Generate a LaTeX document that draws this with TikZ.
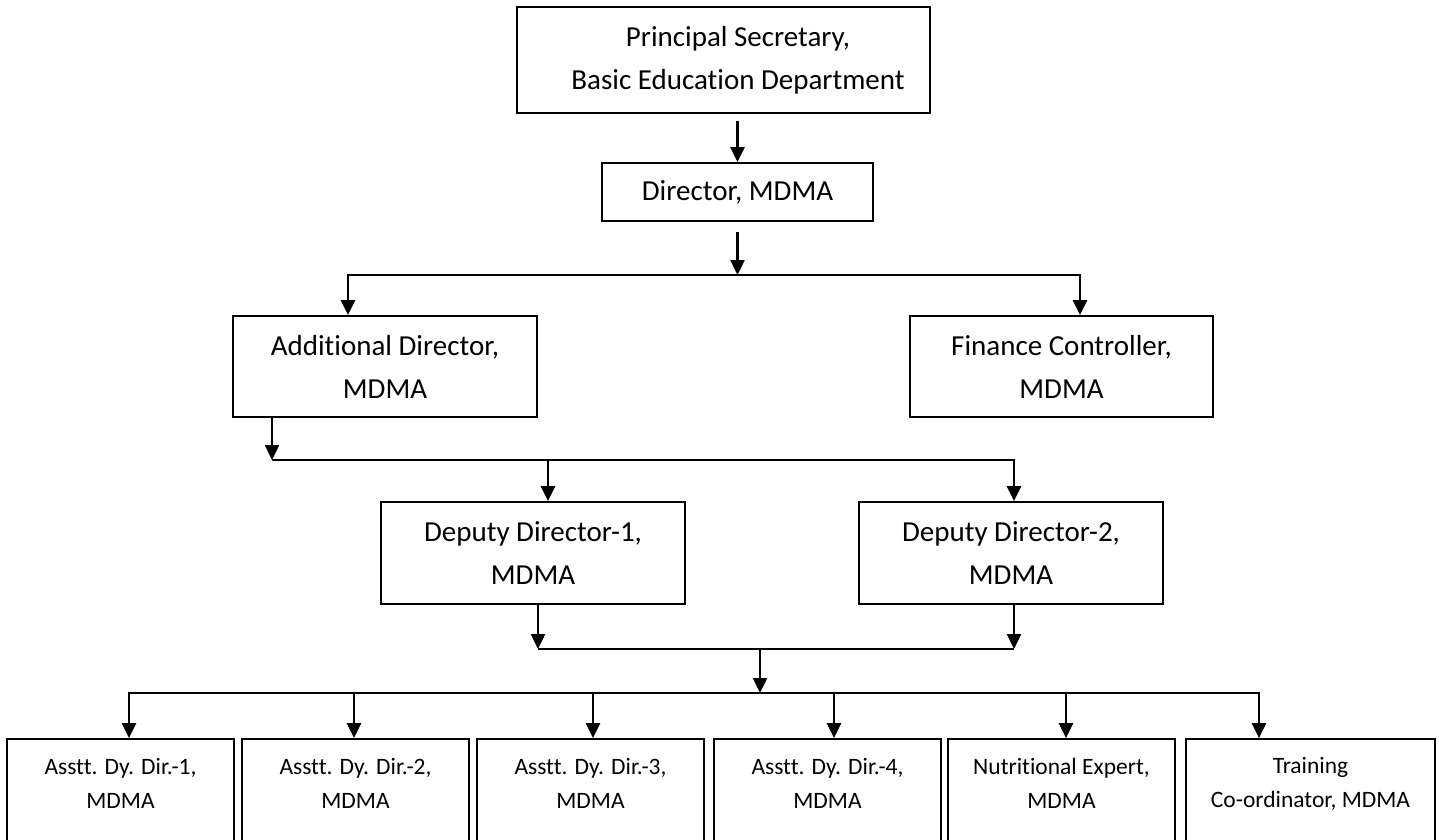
\documentclass[tikz,border=0pt]{standalone}
\usepackage{fontspec}
\setmainfont{Carlito}[Ligatures=NoCommon]
\usetikzlibrary{arrows.meta}
\begin{document}
\begin{tikzpicture}[x=1pt,y=-1pt,
  box/.style={draw, line width=1.8pt, rectangle, inner sep=0pt},
  big/.style={font=\fontsize{29}{43}\selectfont, align=center},
  small/.style={font=\fontsize{23.5}{34}\selectfont, align=center, inner sep=0pt},
  conn/.style={line width=2.4pt},
  arr/.style={conn, -{Triangle[length=15pt,width=14pt]}}]
\useasboundingbox (0,0) rectangle (1439,839);
\clip (0,0) rectangle (1439,839);

% boxes
\node[box,big,minimum width=413pt,minimum height=106pt] (ps) at (723.5,60)
  {\hspace*{29pt}Principal Secretary,\\\hspace*{29pt}Basic Education Department};
\node[box,big,minimum width=271pt,minimum height=58pt] (dir) at (737.5,192) {Director, MDMA};
\node[box,big,minimum width=304pt,minimum height=101pt] (ad) at (385,366.5) {Additional Director,\\MDMA};
\node[box,big,minimum width=303pt,minimum height=101pt] (fc) at (1061.5,366.5) {Finance Controller,\\MDMA};
\node[box,big,minimum width=304pt,minimum height=102pt] (d1) at (533,553) {Deputy Director-1,\\MDMA};
\node[box,big,minimum width=304pt,minimum height=102pt] (d2) at (1011,553) {Deputy Director-2,\\MDMA};

\node[box,minimum width=227pt,minimum height=111pt] (b1) at (120.5,794.5) {};
\node[box,minimum width=227pt,minimum height=111pt] (b2) at (355.5,794.5) {};
\node[box,minimum width=227pt,minimum height=111pt] (b3) at (590.5,794.5) {};
\node[box,minimum width=227pt,minimum height=111pt] (b4) at (827.5,794.5) {};
\node[box,minimum width=227pt,minimum height=111pt] (b5) at (1061.5,794.5) {};
\node[box,minimum width=249pt,minimum height=111pt] (b6) at (1310.5,794.5) {};

\node[small] (t1) at (120.5,783.5) {Asstt. Dy. Dir.-1,\\MDMA};
\node[small] (t2) at (355.5,783.5) {Asstt. Dy. Dir.-2,\\MDMA};
\node[small] (t3) at (590.5,783.5) {Asstt. Dy. Dir.-3,\\MDMA};
\node[small] (t4) at (827.5,783.5) {Asstt. Dy. Dir.-4,\\MDMA};
\node[small] (t5) at (1061.5,783.5) {Nutritional Expert,\\MDMA};
\node[small] (t6) at (1310.5,783.5) {Training\\Co-ordinator, MDMA};

% junction coordinates
\coordinate (h1m) at (737.5,275);
\coordinate (h1l) at (348,275);
\coordinate (h1r) at (1080,275);
\coordinate (h2l) at (272,460);
\coordinate (h2a) at (548,460);
\coordinate (h2b) at (1014,460);
\coordinate (h3a) at (538,649);
\coordinate (h3b) at (1014,649);
\coordinate (h3m) at (760,649);
\coordinate (h4m) at (760,693);
\coordinate (a1) at (129,693);
\coordinate (a2) at (354,693);
\coordinate (a3) at (593,693);
\coordinate (a4) at (834,693);
\coordinate (a5) at (1066,693);
\coordinate (a6) at (1259,693);

% connectors
\draw[arr] ([yshift=-7pt]dir.north |- ps.south) -- (dir.north);
\draw[arr] ([yshift=-10pt]dir.south) -- (h1m);
\draw[arr] (h1m) -| (h1l |- ad.north);
\draw[arr] (h1m) -| (h1r |- fc.north);

\draw[arr] (h2l |- ad.south) -- (h2l);
\draw[conn] (h2l) -- (h2a);
\draw[arr] (h2a) -- (h2a |- d1.north);
\draw[arr] (h2l) -| (h2b |- d2.north);

\draw[arr] (h3a |- d1.south) -- (h3a);
\draw[arr] (h3b |- d2.south) -- (h3b);
\draw[conn] (h3a) -- (h3b);
\draw[arr] (h3m) -- (h4m);

\draw[arr] (h4m) -| (a1 |- b1.north);
\draw[arr] (h4m) -| (a6 |- b6.north);
\draw[arr] (a2) -- (a2 |- b2.north);
\draw[arr] (a3) -- (a3 |- b3.north);
\draw[arr] (a4) -- (a4 |- b4.north);
\draw[arr] (a5) -- (a5 |- b5.north);
\end{tikzpicture}
\end{document}
